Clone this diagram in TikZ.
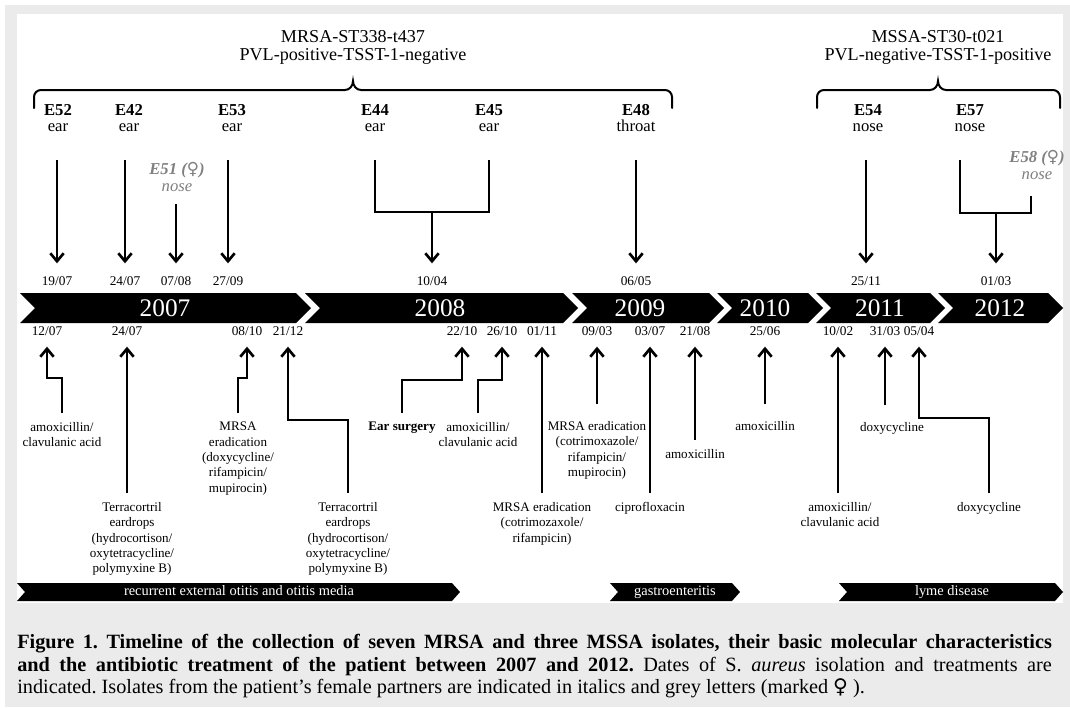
\documentclass[tikz,border=0pt]{standalone}
\usepackage{fontspec}
\setmainfont{Liberation Serif}
\newfontfamily\symfont{DejaVu Sans}
\usetikzlibrary{arrows.meta}

\definecolor{panelgrey}{HTML}{EBEBEB}
\definecolor{femgrey}{HTML}{808080}

\tikzset{
  iso/.style={font=\fontsize{12.5}{12.5}\selectfont, align=center, inner sep=0pt},
  femiso/.style={iso, text=femgrey},
  grp/.style={font=\fontsize{13.6}{13.5}\selectfont, align=center, inner sep=0pt},
  datelbl/.style={font=\fontsize{10}{12}\selectfont, inner sep=0pt, text height=7pt, text depth=2pt},
  topdate/.style={datelbl, outer ysep=9.5pt},
  botdate/.style={datelbl, outer ysep=6.5pt},
  yearlbl/.style={font=\fontsize{19}{20}\selectfont, text=white, inner sep=0pt},
  barlbl/.style={font=\fontsize{10.8}{12}\selectfont, text=white, inner sep=0pt, text height=7pt, text depth=2pt},
  treat/.style={font=\fontsize{9.8}{11.5}\selectfont, align=center, inner sep=0pt, outer ysep=7pt, anchor=north},
  isoarrow/.style={line width=1pt, -{Straight Barb[length=6pt,width=10pt,line width=2pt]}},
  treatarrow/.style={isoarrow},
  bracketline/.style={line width=1.5pt, line cap=round},
}

\begin{document}
\begin{tikzpicture}[x=0.75pt, y=-0.75pt]
	\useasboundingbox (0,0) rectangle (1070,707);
	\fill[white] (0,0) rectangle (1070,707);
	\fill[panelgrey] (5,5) rectangle (1070,707);
	\fill[white] (17,14) rectangle (1063,603);
	
	% strain groups
	\node[grp] (mrsa) at (353,47) {MRSA-ST338-t437\\PVL-positive-TSST-1-negative};
	\node[grp] (mssa) at (938,47) {MSSA-ST30-t021\\PVL-negative-TSST-1-positive};
	\draw[bracketline] (34,108) -- (34,97) to[out=90,in=180] (41,90) -- (345,90) to[out=0,in=-90] (353,81) to[out=-90,in=180] (361,90) -- (665,90) to[out=0,in=90] (672,97) -- (672,108);
	\draw[bracketline] (817,108) -- (817,97) to[out=90,in=180] (824,90) -- (930,90) to[out=0,in=-90] (938,81) to[out=-90,in=180] (946,90) -- (1053,90) to[out=0,in=90] (1060,97) -- (1060,108);
	
	% isolates
	\node[iso] (e52) at (58,118) {\textbf{E52}\\ear};
	\node[iso] (e42) at (129,118) {\textbf{E42}\\ear};
	\node[femiso] (e51) at (177,177) {\textbf{\textit{E51 ({\symfont\mdseries ♀})}}\\\textit{nose}};
	\node[iso] (e53) at (232,118) {\textbf{E53}\\ear};
	\node[iso] (e44) at (375,118) {\textbf{E44}\\ear};
	\node[iso] (e45) at (489,118) {\textbf{E45}\\ear};
	\node[iso] (e48) at (636,118) {\textbf{E48}\\throat};
	\node[iso] (e54) at (868,118) {\textbf{E54}\\nose};
	\node[iso] (e57) at (970,118) {\textbf{E57}\\nose};
	\node[femiso] (e58) at (1037,165) {\textbf{\textit{E58 ({\symfont\mdseries ♀})}}\\\textit{nose}};
	
	% isolation dates
	\node[topdate] (dt1907) at (57,282) {19/07};
	\node[topdate] (dt2407) at (125,282) {24/07};
	\node[topdate] (dt0708) at (176,282) {07/08};
	\node[topdate] (dt2709) at (228,282) {27/09};
	\node[topdate] (dt1004) at (432,282) {10/04};
	\node[topdate] (dt0605) at (636,282) {06/05};
	\node[topdate] (dt2511) at (866,282) {25/11};
	\node[topdate] (dt0103) at (996,282) {01/03};
	
	\draw[isoarrow, shorten <=21pt] (e52.south -| dt1907) -- (dt1907.north);
	\draw[isoarrow, shorten <=21pt] (e42.south -| dt2407) -- (dt2407.north);
	\draw[isoarrow, shorten <=9pt] (e51.south -| dt0708) -- (dt0708.north);
	\draw[isoarrow, shorten <=21pt] (e53.south -| dt2709) -- (dt2709.north);
	\draw[isoarrow, shorten <=21pt] (e48.south -| dt0605) -- (dt0605.north);
	\draw[isoarrow, shorten <=21pt] (e54.south -| dt2511) -- (dt2511.north);
	
	\coordinate (j1) at (432,212);
	\draw[line width=1pt, shorten <=21pt, shorten >=21pt] (e44.south) |- (j1) -| (e45.south);
	\draw[isoarrow] (j1) -- (dt1004.north);
	\coordinate (j2) at (996,213);
	\draw[line width=1pt, shorten <=21pt, shorten >=12pt] ([xshift=-7.5pt]e57.south) |- (j2) -| ([xshift=-4.5pt]e58.south);
	\draw[isoarrow, line width=1.8pt] (j2) -- (dt0103.north);
	
	% timeline
	\foreach \a/\b in {20/296, 305/563, 572/709, 717/808, 816/930, 938/1048}
		\fill (\a,293) -- (\b,293) -- ++(15,15) -- (\b,323) -- (\a,323) -- ++(15,-15) -- cycle;
	\node[yearlbl] (y2007) at (165,308) {2007};
	\node[yearlbl] (y2008) at (440,308) {2008};
	\node[yearlbl] (y2009) at (640,308) {2009};
	\node[yearlbl] (y2010) at (765,308) {2010};
	\node[yearlbl] (y2011) at (880,308) {2011};
	\node[yearlbl] (y2012) at (1000,308) {2012};
	
	% treatment dates
	\node[botdate] (db1207) at (47,332) {12/07};
	\node[botdate] (db2407) at (127,332) {24/07};
	\node[botdate] (db0810) at (247,332) {08/10};
	\node[botdate] (db2112) at (288,332) {21/12};
	\node[botdate] (db2210) at (462,332) {22/10};
	\node[botdate] (db2610) at (502,332) {26/10};
	\node[botdate] (db0111) at (542,332) {01/11};
	\node[botdate] (db0903) at (597,332) {09/03};
	\node[botdate] (db0307) at (650,332) {03/07};
	\node[botdate] (db2108) at (695,332) {21/08};
	\node[botdate] (db2506) at (765,332) {25/06};
	\node[botdate] (db1002) at (838,332) {10/02};
	\node[botdate] (db3103) at (885,332) {31/03};
	\node[botdate] (db0504) at (919,332) {05/04};
	
	% treatments
	\node[treat] (t1207) at (62,413) {amoxicillin/\\clavulanic acid};
	\node[treat] (t2407) at (132,493) {Terracortril\\eardrops\\(hydrocortison/\\oxytetracycline/\\polymyxine B)};
	\node[treat] (t0810) at (238,413) {MRSA\\eradication\\(doxycycline/\\rifampicin/\\mupirocin)};
	\node[treat] (t2112) at (348,493) {Terracortril\\eardrops\\(hydrocortison/\\oxytetracycline/\\polymyxine B)};
	\node[treat] (t2210) at (402,413) {\textbf{Ear surgery}};
	\node[treat] (t2610) at (478,413) {amoxicillin/\\clavulanic acid};
	\node[treat] (t0111) at (542,493) {MRSA eradication\\(cotrimozaxole/\\rifampicin)};
	\node[treat, outer ysep=13pt] (t0903) at (597,404) {MRSA eradication\\(cotrimoxazole/\\rifampicin/\\mupirocin)};
	\node[treat] (t0307) at (650,493) {ciprofloxacin};
	\node[treat] (t2108) at (695,440) {amoxicillin};
	\node[treat, outer ysep=13pt] (t2506) at (765,404) {amoxicillin};
	\node[treat] (t1002) at (840,493) {amoxicillin/\\clavulanic acid};
	\node[treat, outer ysep=13pt] (t3103) at (892,405) {doxycycline};
	\node[treat] (t0504) at (989,493) {doxycycline};
	
	\draw[treatarrow] (t1207.north) -- ++(0,-35) -| (db1207.south);
	\draw[treatarrow] (t2407.north -| db2407) -- (db2407.south);
	\draw[treatarrow] (t0810.north) -- ++(0,-35) -| (db0810.south);
	\draw[treatarrow] (t2112.north) -- ++(0,-73) -| (db2112.south);
	\draw[treatarrow] (t2210.north) -- ++(0,-33) -| (db2210.south);
	\draw[treatarrow] (t2610.north) -- ++(0,-33) -| (db2610.south);
	\foreach \t/\d in {t0111/db0111, t0903/db0903, t0307/db0307, t2108/db2108, t2506/db2506, t1002/db1002, t3103/db3103}
		\draw[treatarrow] (\t.north -| \d) -- (\d.south);
	\draw[treatarrow] (t0504.north) -- ++(0,-75) -| (db0504.south);
	
	% disease periods
	\fill (17,583) -- (452,583) -- ++(8,9) -- (452,601) -- (17,601) -- ++(8,-9) -- cycle;
	\fill (610,583) -- (732,583) -- ++(8,9) -- (732,601) -- (610,601) -- ++(8,-9) -- cycle;
	\fill (839,583) -- (1055,583) -- ++(8,9) -- (1055,601) -- (839,601) -- ++(8,-9) -- cycle;
	\node[barlbl] (otitis) at (239,592) {recurrent external otitis and otitis media};
	\node[barlbl] (gastro) at (675,592) {gastroenteritis};
	\node[barlbl] (lyme) at (952,592) {lyme disease};
	
	% caption
	\node[anchor=north west, inner sep=0pt, text width=776pt, align=justify, font=\fontsize{15.2}{16.9}\selectfont\frenchspacing] (caption) at (17,634) {\textbf{Figure 1. Timeline of the collection of seven MRSA and three MSSA isolates, their basic molecular characteristics\linebreak and the antibiotic treatment of the patient between 2007 and 2012.} Dates of S. \textit{aureus} isolation and treatments are\linebreak indicated. Isolates from the patient's female partners are indicated in italics and grey letters (marked {\symfont ♀} ).};
	
\end{tikzpicture}
\end{document}
